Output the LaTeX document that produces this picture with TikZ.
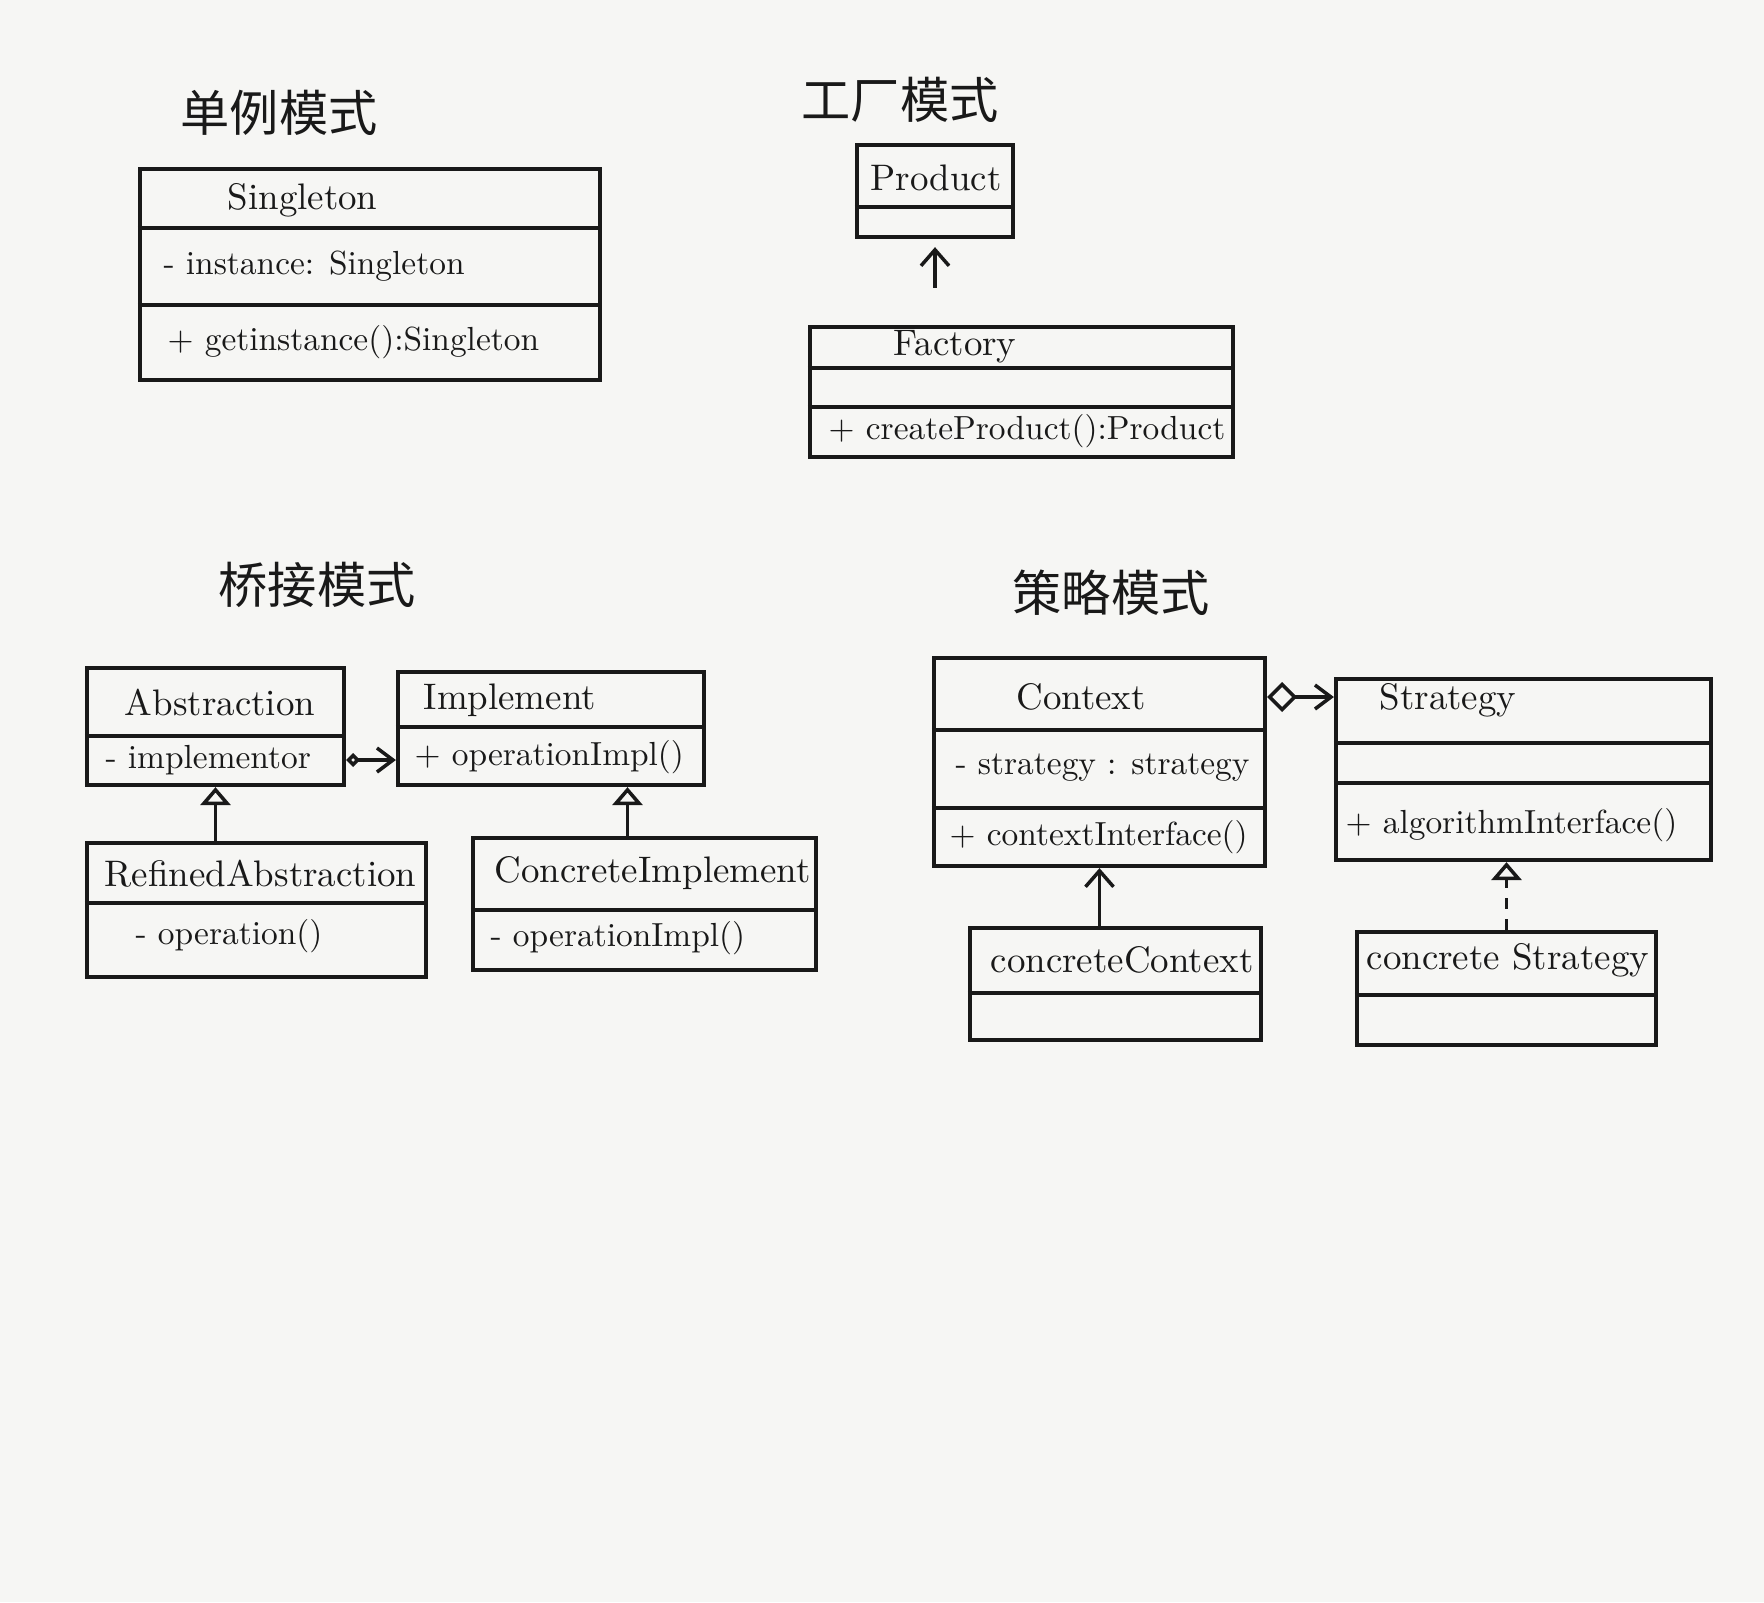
\documentclass[tikz,border=0pt]{standalone}
\usepackage{fontspec}
\newfontfamily\cjk{Noto Sans CJK SC}
\usetikzlibrary{arrows.meta, fit, positioning}
\definecolor{paper}{RGB}{246,246,244}
\definecolor{ink}{RGB}{25,25,25}

\begin{document}
\begin{tikzpicture}[x=0.01cm, y=-0.01cm,
        classbox/.style={draw=ink, line width=1.2pt, inner sep=0pt},
        compline/.style={draw=ink, line width=1.2pt},
        member/.style={anchor=west, inner sep=0pt, text=ink, font=\fontsize{9.5}{11}\selectfont},
        classname/.style={member, font=\fontsize{10.5}{12}\selectfont},
        pattitle/.style={text=ink, font=\cjk\fontsize{14}{16}\selectfont},
        assoc/.style={draw=ink, line width=1pt, -{Straight Barb[length=1.6mm, width=2.8mm]}},
        inherit/.style={draw=ink, line width=1pt, -{Triangle[open, length=1.8mm, width=3mm]}},
        realize/.style={inherit, dashed},
        aggr/.style={draw=ink, line width=1pt, {Diamond[open, length=#1, width=#1]}-{Straight Barb[length=1.6mm, width=2.4mm]}}]
    \fill[paper] (0,0) rectangle (1764,1602);
    \useasboundingbox (0,0) rectangle (1764,1602);

    % singleton
    \node[pattitle] (singletitle) at (279,113) {单例模式};
    \node[classbox, fit={(140,169) (600,380)}] (singleton) {};
    \draw[compline] (singleton.west |- 0,228) -- (singleton.east |- 0,228);
    \draw[compline] (singleton.west |- 0,305) -- (singleton.east |- 0,305);
    \node[classname] (singletonname) at (227,200) {Singleton};
    \node[member] (singletonattr) at (163,266) {- instance: Singleton};
    \node[member] (singletonop) at (167,342) {+ getinstance():Singleton};

    % factory
    \node[pattitle] (factorytitle) at (900,100) {工厂模式};
    \node[classbox, fit={(857,145) (1013,237)}] (product) {};
    \draw[compline] (product.west |- 0,207) -- (product.east |- 0,207);
    \node[classname, anchor=center] (productname) at (936,178) {Product};
    \node[classbox, fit={(810,327) (1233,457)}] (factory) {};
    \draw[compline] (factory.west |- 0,368) -- (factory.east |- 0,368);
    \draw[compline] (factory.west |- 0,407) -- (factory.east |- 0,407);
    \node[classname] (factoryname) at (893,347) {Factory};
    \node[member] (factoryop) at (828,431) {+ createProduct():Product};
    \draw[assoc, shorten <=3.7mm, shorten >=0.8mm] (product.south |- factory.north) -- (product.south);

    % bridge
    \node[pattitle] (bridgetitle) at (317,585) {桥接模式};
    \node[classbox, fit={(87,668) (344,785)}] (abstraction) {};
    \draw[compline] (abstraction.west |- 0,736) -- (abstraction.east |- 0,736);
    \node[classname, anchor=center] (abstractionname) at (220,702) {Abstraction};
    \node[member] (abstractionattr) at (105,760) {- implementor};
    \node[classbox, fit={(398,672) (704,785)}] (implement) {};
    \draw[compline] (implement.west |- 0,727) -- (implement.east |- 0,727);
    \node[classname] (implementname) at (423,700) {Implement};
    \node[member] (implementop) at (414,757) {+ operationImpl()};
    \node[classbox, fit={(87,843) (426,977)}] (refined) {};
    \draw[compline] (refined.west |- 0,903) -- (refined.east |- 0,903);
    \node[classname] (refinedname) at (104,874) {RefinedAbstraction};
    \node[member] (refinedop) at (135,936) {- operation()};
    \node[classbox, fit={(473,838) (816,970)}] (concimpl) {};
    \draw[compline] (concimpl.west |- 0,910) -- (concimpl.east |- 0,910);
    \node[classname] (concimplname) at (494,873) {ConcreteImplement};
    \node[member] (concimplop) at (490,938) {- operationImpl()};
    \draw[aggr=1.4mm] (abstraction.east |- abstractionattr) -- (implement.west |- abstractionattr);
    \draw[inherit] (refined.north -| abstraction.south) -- (abstraction.south);
    \draw[inherit] ([xshift=-1.7mm]concimpl.north) -- ([xshift=-1.7mm]concimpl.north |- implement.south);

    % strategy
    \node[pattitle] (strategytitle) at (1111,593) {策略模式};
    \node[classbox, fit={(934,658) (1265,866)}] (context) {};
    \draw[compline] (context.west |- 0,730) -- (context.east |- 0,730);
    \draw[compline] (context.west |- 0,808) -- (context.east |- 0,808);
    \node[classname, anchor=center] (contextname) at (1081,697) {Context};
    \node[member] (contextattr) at (955,768) {- strategy : strategy};
    \node[member] (contextop) at (949,837) {+ contextInterface()};
    \node[classbox, fit={(1336,679) (1711,860)}] (strategy) {};
    \draw[compline] (strategy.west |- 0,743) -- (strategy.east |- 0,743);
    \draw[compline] (strategy.west |- 0,783) -- (strategy.east |- 0,783);
    \node[classname] (strategyname) at (1379,700) {Strategy};
    \node[member] (strategyop) at (1345,825) {+ algorithmInterface()};
    \node[classbox, fit={(970,928) (1261,1040)}] (concctx) {};
    \draw[compline] (concctx.west |- 0,993) -- (concctx.east |- 0,993);
    \node[classname] (concctxname) at (990,960) {concreteContext};
    \node[classbox, fit={(1357,932) (1656,1045)}] (concstrat) {};
    \draw[compline] (concstrat.west |- 0,995) -- (concstrat.east |- 0,995);
    \node[classname] (concstratname) at (1366,960) {concrete Strategy};
    \draw[aggr=3mm] (context.east |- contextname) -- (strategy.west |- contextname);
    \draw[assoc] (concctx.north -| context.south) -- (context.south);
    \draw[realize] (concstrat.north) -- (concstrat.north |- strategy.south);
\end{tikzpicture}
\end{document}
